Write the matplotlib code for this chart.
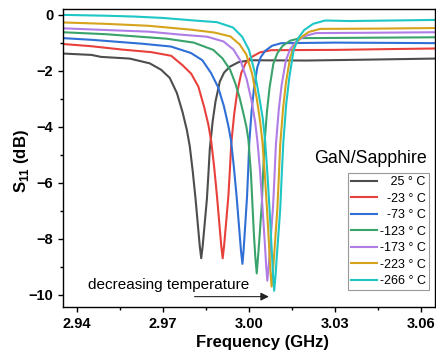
import matplotlib
matplotlib.use("Agg")
import matplotlib.pyplot as plt
from matplotlib.ticker import MultipleLocator, FormatStrFormatter

plt.rcParams['font.family'] = ['Liberation Sans', 'DejaVu Sans']
plt.rcParams['mathtext.fontset'] = 'custom'
plt.rcParams['mathtext.rm'] = 'Liberation Sans'
plt.rcParams['mathtext.bf'] = 'Liberation Sans:bold'

# S11 (dB) vs frequency (GHz)
f_25 = [2.935, 2.945, 2.9483, 2.9583, 2.9653, 2.9693, 2.9723, 2.9748, 2.9768, 2.9783, 2.9793,
        2.9803, 2.9813, 2.9823, 2.9828, 2.9833, 2.9838, 2.9843, 2.9853, 2.9858, 2.9863, 2.9873,
        2.9883, 2.9898, 2.9913, 2.9933, 2.9963, 3.0003, 3.02, 3.04, 3.065]
s_25 = [-1.38, -1.43, -1.50, -1.56, -1.73, -1.96, -2.25, -2.79, -3.48, -4.12, -4.69,
        -5.55, -6.55, -7.69, -8.26, -8.69, -8.26, -7.70, -6.56, -5.71, -4.79, -3.80,
        -3.09, -2.38, -2.06, -1.85, -1.69, -1.62, -1.63, -1.60, -1.56]

f_m23 = [2.935, 2.945, 2.9558, 2.9658, 2.9728, 2.9768, 2.9798, 2.9823, 2.9843, 2.9858, 2.9868,
         2.9878, 2.9888, 2.9898, 2.9903, 2.9908, 2.9913, 2.9918, 2.9928, 2.9933, 2.9938, 2.9948,
         2.9958, 2.9973, 2.9988, 3.0008, 3.0038, 3.0078, 3.03, 3.05, 3.065]
s_m23 = [-1.04, -1.12, -1.24, -1.33, -1.46, -1.80, -2.10, -2.56, -3.28, -3.92, -4.52,
         -5.41, -6.46, -7.65, -8.24, -8.69, -8.24, -7.65, -6.46, -5.57, -4.60, -3.56,
         -2.81, -2.07, -1.73, -1.51, -1.34, -1.26, -1.25, -1.22, -1.20]

f_m73 = [2.935, 2.945, 2.9627, 2.9727, 2.9797, 2.9837, 2.9867, 2.9892, 2.9912, 2.9927, 2.9937,
         2.9947, 2.9957, 2.9967, 2.9972, 2.9977, 2.9981, 2.9985, 2.9993, 2.9997, 3.0001, 3.0009,
         3.0017, 3.0029, 3.0041, 3.0057, 3.0081, 3.0113, 3.03, 3.05, 3.065]
s_m73 = [-0.83, -0.89, -1.03, -1.13, -1.36, -1.62, -2.07, -2.58, -3.25, -3.92, -4.47,
         -5.42, -6.52, -7.79, -8.42, -8.89, -8.42, -7.79, -6.52, -5.58, -4.55, -3.45,
         -2.66, -1.87, -1.51, -1.28, -1.10, -1.01, -0.99, -1.00, -1.01]

f_m123 = [2.935, 2.95, 2.9712, 2.9807, 2.9875, 2.9907, 2.9934, 2.9952, 2.9967, 2.9980, 2.9991,
          2.9998, 3.0007, 3.0017, 3.0022, 3.0027, 3.0031, 3.0036, 3.0045, 3.0049, 3.0054, 3.0063,
          3.0072, 3.0085, 3.0099, 3.0117, 3.0144, 3.0180, 3.035, 3.05, 3.065]
s_m123 = [-0.62, -0.69, -0.85, -0.99, -1.25, -1.55, -1.96, -2.44, -2.95, -3.50, -4.00,
          -4.46, -5.71, -7.81, -8.64, -9.23, -8.72, -8.05, -6.71, -5.70, -4.60, -3.43,
          -2.59, -1.75, -1.37, -1.11, -0.92, -0.83, -0.82, -0.81, -0.80]

f_m173 = [2.935, 2.95, 2.965, 2.9766, 2.9854, 2.9911, 2.9945, 2.9971, 2.9992, 3.0009, 3.0022,
          3.0030, 3.0039, 3.0047, 3.0056, 3.0060, 3.0064, 3.0069, 3.0074, 3.0084, 3.0089, 3.0094,
          3.0104, 3.0114, 3.0129, 3.0144, 3.0164, 3.0194, 3.0234, 3.04, 3.065]
s_m173 = [-0.48, -0.54, -0.60, -0.71, -0.78, -0.95, -1.23, -1.65, -2.30, -3.07, -3.86,
          -4.57, -5.62, -6.85, -8.26, -8.96, -9.49, -8.96, -8.25, -6.84, -5.78, -4.63,
          -3.39, -2.51, -1.62, -1.22, -0.96, -0.76, -0.65, -0.64, -0.62]

f_m223 = [2.935, 2.95, 2.965, 2.9799, 2.9879, 2.9935, 2.9967, 2.9991, 3.0011, 3.0027, 3.0039,
          3.0047, 3.0055, 3.0063, 3.0071, 3.0075, 3.0079, 3.0084, 3.0089, 3.0099, 3.0104, 3.0109,
          3.0119, 3.0129, 3.0144, 3.0159, 3.0179, 3.0209, 3.0249, 3.045, 3.065]
s_m223 = [-0.27, -0.32, -0.39, -0.53, -0.63, -0.77, -1.05, -1.42, -2.11, -2.98, -3.81,
          -4.55, -5.65, -6.94, -8.41, -9.15, -9.70, -9.15, -8.41, -6.94, -5.84, -4.64,
          -3.35, -2.43, -1.51, -1.10, -0.82, -0.61, -0.50, -0.49, -0.47]

f_m266 = [2.935, 2.95, 2.96, 2.97, 2.9808, 2.9888, 2.9944, 2.9976, 3.0000, 3.0020, 3.0036,
          3.0048, 3.0056, 3.0064, 3.0072, 3.0080, 3.0084, 3.0088, 3.0093, 3.0098, 3.0109, 3.0114,
          3.0120, 3.0130, 3.0141, 3.0156, 3.0172, 3.0193, 3.0224, 3.0266, 3.035, 3.05, 3.065]
s_m266 = [0.00, -0.03, -0.06, -0.11, -0.20, -0.26, -0.45, -0.78, -1.25, -2.05, -2.95,
          -3.69, -4.46, -5.61, -6.96, -8.50, -9.27, -9.85, -9.27, -8.50, -6.96, -5.80,
          -4.54, -3.19, -2.23, -1.26, -0.83, -0.54, -0.32, -0.20, -0.22, -0.20, -0.18]

freqs = [f_25, f_m23, f_m73, f_m123, f_m173, f_m223, f_m266]
s11s = [s_25, s_m23, s_m73, s_m123, s_m173, s_m223, s_m266]
# figure space / space pad so the labels line up on the right like the original
labels = ['\u2007 25 ° C', '\u2007-23 ° C', '\u2007-73 ° C', '-123 ° C',
          '-173 ° C', '-223 ° C', '-266 ° C']
colors = ['#4d4d4d', '#e8413c', '#2f6fd6', '#3aa36c', '#b07de6', '#d6a31c', '#1ec6c6']

xticks = [2.94, 2.97, 3.00, 3.03, 3.06]
yticks = [-10, -8, -6, -4, -2, 0]

fig = plt.figure(figsize=(4.36, 3.56), dpi=100)
ax = fig.add_axes([63/436, 49/356, 372/436, 298/356])

for f, s, lab, c in zip(freqs, s11s, labels, colors):
    ax.plot(f, s, color=c, lw=1.5, label=lab, solid_joinstyle='round')

ax.set_xlim(2.935, 3.065)
ax.set_ylim(-10.43, 0.21)
ax.set_xticks(xticks)
ax.set_yticks(yticks)
ax.xaxis.set_minor_locator(MultipleLocator(0.015))
ax.yaxis.set_minor_locator(MultipleLocator(1))
ax.xaxis.set_major_formatter(FormatStrFormatter('%.2f'))
ax.tick_params(which='major', direction='out', length=3.6, width=1, pad=3.5,
               labelsize=10.5)
ax.tick_params(which='minor', direction='out', length=2, width=1)
for lab in ax.get_xticklabels() + ax.get_yticklabels():
    lab.set_fontweight('bold')
for sp in ax.spines.values():
    sp.set_linewidth(1.0)

ax.set_xlabel('Frequency (GHz)', fontsize=12, fontweight='bold')
ax.set_ylabel(r'S$_{\mathbf{11}}$ (dB)', fontsize=12, fontweight='bold')
ax.xaxis.set_label_coords(0.535, -0.095)
ax.yaxis.set_label_coords(-0.085, 0.49)

leg = ax.legend(loc='upper right', bbox_to_anchor=(0.984, 0.450), borderaxespad=0,
                fontsize=9, frameon=True, fancybox=False, framealpha=1,
                edgecolor='#999999', handlelength=2.1, handletextpad=0.2,
                labelspacing=0.36, borderpad=0.25)
leg.get_frame().set_linewidth(0.8)

ax.text(3.0622, -5.14, 'GaN/Sapphire', fontsize=12.8, ha='right', va='center')
ax.text(2.9438, -9.66, 'decreasing temperature', fontsize=11, ha='left', va='center')
ax.annotate('', xy=(3.0079, -10.06), xytext=(2.9800, -10.06),
            arrowprops=dict(arrowstyle='-|>', color='#222222', lw=0.8,
                            mutation_scale=12))

fig.savefig('out.png', dpi=100)
